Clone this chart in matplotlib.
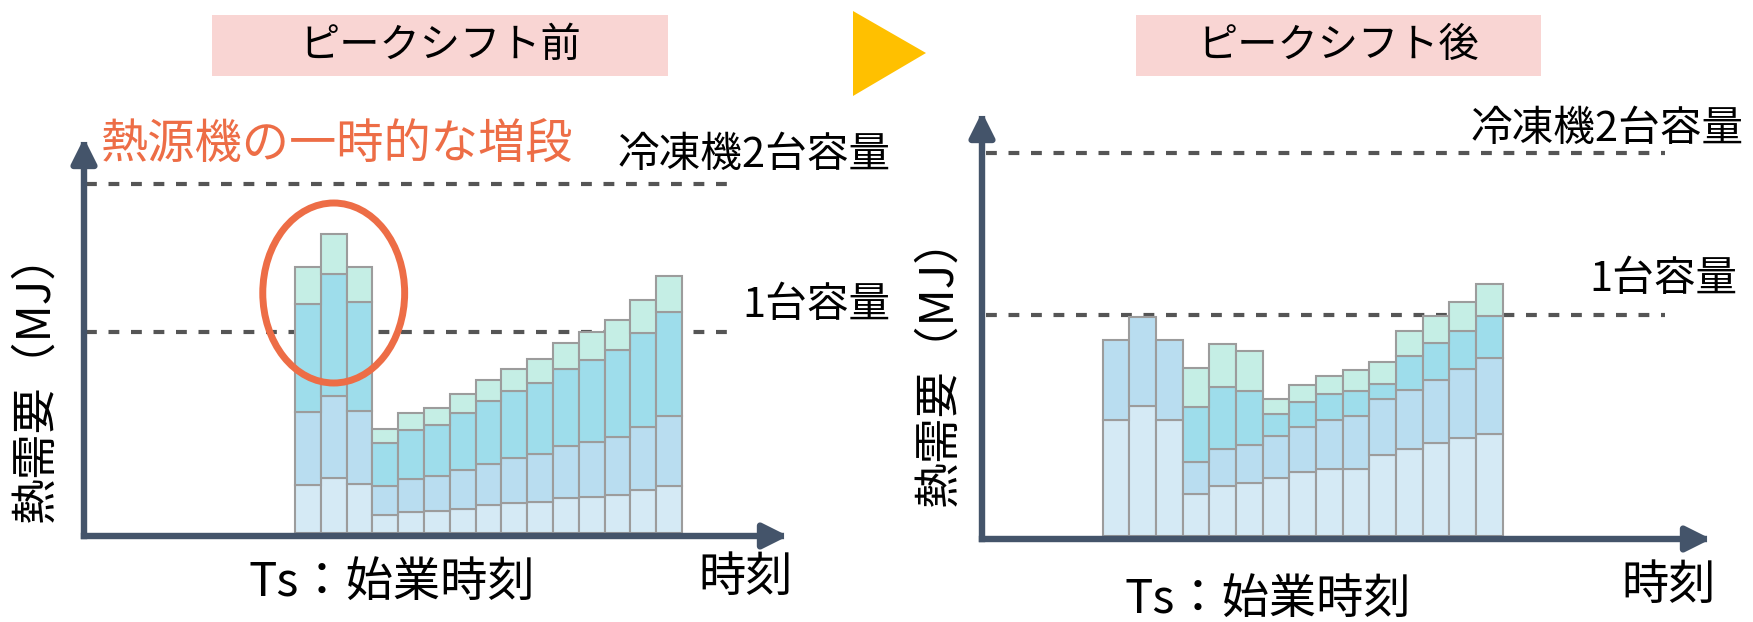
import numpy as np
import matplotlib
matplotlib.use("Agg")
import matplotlib.pyplot as plt
from matplotlib.patches import Rectangle, Polygon, Ellipse, FancyArrowPatch

plt.rcParams['font.family'] = ['Noto Sans CJK JP', 'DejaVu Sans']

# ---------- data (heat demand per time slot, 4 stacked parts) ----------
before_1 = [48, 55, 49, 18, 21, 22, 24, 28, 30, 31, 35, 36, 38, 43, 47]
before_2 = [73, 82, 73, 29, 33, 35, 39, 41, 45, 48, 52, 55, 58, 63, 70]
before_3 = [108, 122, 109, 43, 49, 51, 57, 63, 67, 71, 77, 82, 87, 94, 104]
before_4 = [37, 40, 35, 14, 17, 17, 19, 21, 22, 24, 26, 28, 30, 33, 36]

after_1 = [116, 130, 116, 42, 50, 53, 58, 64, 67, 67, 81, 87, 93, 98, 102]
after_2 = [80, 89, 80, 32, 37, 38, 42, 45, 49, 53, 56, 59, 63, 69, 76]
after_3 = [0, 0, 0, 55, 62, 54, 22, 25, 26, 25, 15, 34, 37, 38, 42]
after_4 = [0, 0, 0, 39, 43, 40, 15, 17, 18, 21, 22, 25, 27, 29, 32]

cap_before = {'1台容量': 201, '冷凍機2台容量': 349}
cap_after = {'1台容量': 221, '冷凍機2台容量': 383}

titles = ['ピークシフト前', 'ピークシフト後']
ylabel = '熱需要（MJ）'
xlabel = '時刻'
ts_label = 'Ts：始業時刻'
note = '熱源機の一時的な増段'

layer_colors = ['#D5EAF5', '#B9DDF0', '#9EDDEB', '#C5EEE5']
axis_col = '#44546A'
orange = '#ED6D46'

W, H = 1753, 622
fig = plt.figure(figsize=(W / 100, H / 100), dpi=100)


def box(x0, x1, ytop, ybot):
    return [x0 / W, 1 - ybot / H, (x1 - x0) / W, (ybot - ytop) / H]


def ftext(x, y, s, **kw):
    fig.text(x / W, 1 - y / H, s, **kw)


def panel(rect, xlim, ylim, layers, caps, dash_span):
    ax = fig.add_axes(rect)
    ax.set_xlim(*xlim)
    ax.set_ylim(*ylim)
    ax.axis('off')
    x = np.arange(len(layers[0]))
    bottom = np.zeros(len(x))
    for vals, col in zip(layers, layer_colors):
        vals = np.array(vals, dtype=float)
        m = vals > 0
        ax.bar(x[m], vals[m], width=1.0, bottom=bottom[m], color=col,
               edgecolor='#9C9C9C', linewidth=1.5, zorder=2)
        bottom += vals
    for v in caps.values():
        ax.axhline(v, xmin=dash_span[0], xmax=dash_span[1], color='#555555',
                   lw=3, dashes=(2.6, 2.8), zorder=1)
    # axis arrows
    for a, b in [((0, 0), (1, 0)), ((0, 0), (0, 1))]:
        arr = FancyArrowPatch(a, b, transform=ax.transAxes,
                              arrowstyle='-|>,head_length=15,head_width=7.5',
                              color=axis_col, lw=4.6, clip_on=False,
                              shrinkA=0, shrinkB=0, zorder=3)
        arr.set_capstyle('projecting')
        ax.add_patch(arr)
    return ax


axL = panel(box(84, 788, 138, 536), (-8.68, 18.61), (-3, 395),
            [before_1, before_2, before_3, before_4], cap_before, (0.003, 0.929))
axR = panel(box(982, 1711, 112, 539), (-5.03, 22.31), (-3, 424),
            [after_1, after_2, after_3, after_4], cap_after, (0.005, 0.937))

# peak highlight
axL.add_patch(Ellipse((1, 240), 5.5, 180, fill=False, edgecolor=orange,
                      lw=5, clip_on=False, zorder=4))

# title boxes and arrow between panels
for (x0, x1), t in zip([(212, 668), (1136, 1541)], titles):
    fig.add_artist(Rectangle((x0 / W, 1 - 76 / H), (x1 - x0) / W, 61 / H,
                             transform=fig.transFigure, color='#F9D5D3', lw=0))
    ftext((x0 + x1) / 2, 45, t, ha='center', va='center', fontsize=29)
fig.add_artist(Polygon([(853 / W, 1 - 11 / H), (853 / W, 1 - 96 / H), (926 / W, 1 - 53 / H)],
                       closed=True, transform=fig.transFigure, color='#FFC000', lw=0))

# labels
ftext(100, 146, note, color=orange, fontsize=34, ha='left', va='center')
ftext(618, 156, '冷凍機2台容量', fontsize=30, ha='left', va='center')
ftext(742, 305, '1台容量', fontsize=30, ha='left', va='center')
ftext(1471, 130, '冷凍機2台容量', fontsize=30, ha='left', va='center')
ftext(1589, 280, '1台容量', fontsize=30, ha='left', va='center')

ftext(35, 377, ylabel, fontsize=33, rotation=90, ha='center', va='center')
ftext(938, 361, ylabel, fontsize=33, rotation=90, ha='center', va='center')

ftext(248, 583, ts_label, fontsize=34, ha='left', va='center')
ftext(1125, 600, ts_label, fontsize=34, ha='left', va='center')
ftext(698, 578, xlabel, fontsize=34, ha='left', va='center')
ftext(1621, 586, xlabel, fontsize=34, ha='left', va='center')

fig.savefig('out.png', dpi=100, facecolor='white')
